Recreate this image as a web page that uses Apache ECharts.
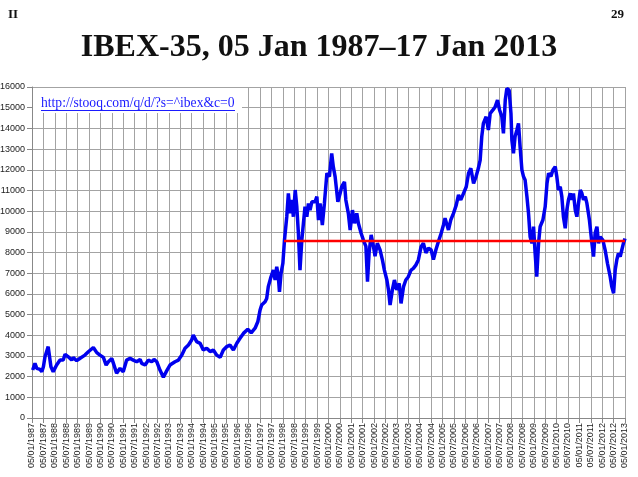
<!DOCTYPE html>
<html>
<head>
<meta charset="utf-8">
<script src="https://cdn.jsdelivr.net/npm/echarts@6/dist/echarts.min.js"></script>
<style>
  html, body { margin: 0; padding: 0; background: #fff; }
  #chart { width: 638px; height: 477px; }
</style>
</head>
<body>
<div id="chart"></div>
<script>
// tick labels, one every half year
var tickLabels = [
  '05/01/1987', '05/07/1987', '05/01/1988', '05/07/1988', '05/01/1989', '05/07/1989',
  '05/01/1990', '05/07/1990', '05/01/1991', '05/07/1991', '05/01/1992', '05/07/1992',
  '05/01/1993', '05/07/1993', '05/01/1994', '05/07/1994', '05/01/1995', '05/07/1995',
  '05/01/1996', '05/07/1996', '05/01/1997', '05/07/1997', '05/01/1998', '05/07/1998',
  '05/01/1999', '05/07/1999', '05/01/2000', '05/07/2000', '05/01/2001', '05/07/2001',
  '05/01/2002', '05/07/2002', '05/01/2003', '05/07/2003', '05/01/2004', '05/07/2004',
  '05/01/2005', '05/07/2005', '05/01/2006', '05/07/2006', '05/01/2007', '05/07/2007',
  '05/01/2008', '05/07/2008', '05/01/2009', '05/07/2009', '05/01/2010', '05/07/2010',
  '05/01/2011', '05/07/2011', '05/01/2012', '05/07/2012', '05/01/2013'
]

// dates as decimal years
var years = [
  1987.03, 1987.13, 1987.21, 1987.35, 1987.43, 1987.50, 1987.57, 1987.71, 1987.79, 1987.83, 1987.93,
  1988.08, 1988.23, 1988.37, 1988.45, 1988.59, 1988.74, 1988.81, 1988.96,
  1989.11, 1989.32, 1989.47, 1989.54, 1989.69, 1989.84, 1989.98,
  1990.13, 1990.25, 1990.35, 1990.50, 1990.57, 1990.71, 1990.86,
  1991.00, 1991.15, 1991.30, 1991.44, 1991.59, 1991.74, 1991.81, 1991.96,
  1992.10, 1992.25, 1992.35, 1992.47, 1992.61, 1992.76, 1992.91,
  1993.05, 1993.27, 1993.42, 1993.57, 1993.71, 1993.86,
  1994.00, 1994.07, 1994.22, 1994.37, 1994.51, 1994.66, 1994.81, 1994.95,
  1995.10, 1995.25, 1995.39, 1995.54, 1995.68, 1995.83, 1995.98,
  1996.12, 1996.27, 1996.46, 1996.61, 1996.78, 1996.90,
  1997.00, 1997.07, 1997.22, 1997.29, 1997.36, 1997.48, 1997.58, 1997.66, 1997.73, 1997.80, 1997.85, 1997.92,
  1998.00, 1998.07, 1998.17, 1998.24, 1998.32, 1998.39, 1998.46, 1998.54, 1998.61, 1998.68, 1998.75, 1998.83, 1998.90, 1998.97,
  1999.05, 1999.12, 1999.19, 1999.27, 1999.41, 1999.49, 1999.56, 1999.63, 1999.73, 1999.82, 1999.93,
  2000.04, 2000.14, 2000.21, 2000.29, 2000.41, 2000.51, 2000.58, 2000.70, 2000.76, 2000.87, 2000.95,
  2001.05, 2001.14, 2001.24, 2001.31, 2001.43, 2001.53, 2001.64, 2001.71, 2001.78, 2001.87, 2001.97,
  2002.04, 2002.14, 2002.26, 2002.36, 2002.45, 2002.56, 2002.63, 2002.70, 2002.80, 2002.89, 2002.99,
  2003.10, 2003.18, 2003.29, 2003.39, 2003.50, 2003.62, 2003.72, 2003.83, 2003.94,
  2004.06, 2004.16, 2004.27, 2004.38, 2004.50, 2004.60, 2004.71, 2004.82, 2004.94,
  2005.04, 2005.11, 2005.16, 2005.26, 2005.36, 2005.48, 2005.60, 2005.70, 2005.80, 2005.92,
  2006.04, 2006.14, 2006.24, 2006.36, 2006.47, 2006.57, 2006.65, 2006.72, 2006.79, 2006.91,
  2007.01, 2007.09, 2007.21, 2007.31, 2007.41, 2007.50, 2007.60, 2007.67, 2007.75, 2007.82, 2007.92,
  2008.00, 2008.04, 2008.11, 2008.18, 2008.26, 2008.33, 2008.40, 2008.48, 2008.55, 2008.62, 2008.70, 2008.77, 2008.84, 2008.92, 2008.99,
  2009.06, 2009.13, 2009.21, 2009.28, 2009.40, 2009.50, 2009.58, 2009.65, 2009.75, 2009.84, 2009.94,
  2010.01, 2010.08, 2010.16, 2010.23, 2010.30, 2010.38, 2010.45, 2010.52, 2010.60, 2010.67, 2010.74, 2010.82, 2010.89, 2010.96,
  2011.04, 2011.11, 2011.18, 2011.26, 2011.33, 2011.44, 2011.55, 2011.62, 2011.69, 2011.77, 2011.84, 2011.91,
  2012.03, 2012.13, 2012.23, 2012.35, 2012.42, 2012.50, 2012.57, 2012.64, 2012.71, 2012.79, 2012.86, 2012.93, 2013.00
]

var ibex = [
  2320, 2640, 2400, 2350, 2240, 2480, 2960, 3450, 3530, 2480, 2240,
  2560, 2800, 2800, 3080, 2960, 2800, 2920, 2770,
  2890, 3040, 3200, 3120, 3410, 3160, 3040,
  2930, 2560, 2720, 2880, 2640, 2160, 2400,
  2240, 2800, 2880, 2800, 2720, 2830, 2640, 2560,
  2800, 2720, 2830, 2720, 2320, 1970, 2290,
  2560, 2720, 2800, 3040, 3370, 3530,
  3770, 4010, 3690, 3610, 3290, 3370, 3210, 3290,
  3040, 2930, 3290, 3450, 3530, 3290, 3610,
  3850, 4090, 4290, 4120, 4340, 4650,
  5220, 5460, 5620, 5780, 6350, 6830, 7150, 6670, 7310, 6830, 6100, 7000,
  7480, 8600, 9730, 10860, 9890, 10540, 9730, 11020, 10210, 8930, 7150, 8600, 9410, 10210,
  9730, 10370, 10050, 10450, 10450, 10700, 9570, 10370, 9330, 10370, 11830,
  11670, 12790, 12150, 11670, 10450, 10860, 11180, 11410, 10540, 9890, 9090,
  10050, 9410, 9890, 9410, 8930, 8600, 8300, 6590, 7980, 8850, 8300,
  7820, 8450, 8130, 7660, 7150, 6670, 6190, 5460, 6190, 6670, 6190,
  6510, 5540, 6350, 6670, 6830, 7150, 7230, 7390, 7640,
  8280, 8450, 7980, 8210, 8130, 7660, 8130, 8530, 8930,
  9330, 9660, 9730, 9090, 9570, 9890, 10290, 10780, 10540, 10860,
  11180, 11830, 12070, 11340, 11670, 12070, 12470, 13600, 14240, 14560,
  13920, 14730, 14890, 15050, 15370, 14890, 14560, 13760, 15370, 15930, 15850,
  14730, 13440, 12790, 13600, 13920, 14240, 13120, 11990, 11670, 11510, 10700, 9890, 8760, 8440, 9250,
  7960, 6830, 8450, 9250, 9570, 10210, 11340, 11830, 11670, 11990, 12150,
  11670, 11020, 11180, 10700, 9730, 9170, 10050, 10540, 10860, 10540, 10860, 10050, 9730, 10370,
  11020, 10860, 10540, 10700, 10370, 9570, 8440, 7800, 8930, 9250, 8440, 8760,
  8600, 8120, 7480, 6830, 6350, 6030, 7150, 7640, 7960, 7800, 8120, 8440, 8680
]

// red level line
var meanStart = 1998.05
var meanEnd = 2013.0
var meanValue = 8550

var seriesData = years.map(function(y, i) { return [y, ibex[i]] })

var chart = echarts.init(document.getElementById('chart'))
var gridColor = '#a3a3a3'

var option = {
  animation: false,
  backgroundColor: '#fff',
  title: {
    text: 'IBEX-35, 05 Jan 1987\u201317 Jan 2013',
    left: 'center',
    top: 27,
    textStyle: {
      fontFamily: 'Liberation Serif',
      fontWeight: 'bold',
      fontSize: 32,
      color: '#111'
    }
  },
  grid: { left: 32, right: 13, top: 87, bottom: 59, outerBoundsMode: 'none' },
  xAxis: {
    type: 'value',
    min: 1987,
    max: 2013,
    interval: 0.5,
    axisLine: { lineStyle: { color: '#888' } },
    axisTick: { show: true, length: 5, lineStyle: { color: '#888' } },
    axisLabel: {
      rotate: 90,
      fontSize: 9,
      fontFamily: 'Liberation Sans',
      color: '#222',
      margin: 5,
      width: 80,
      overflow: 'none',
      hideOverlap: false,
      showMinLabel: true,
      showMaxLabel: true,
      formatter: function(v) {
        return tickLabels[Math.round((v - 1987) * 2)] || ''
      }
    },
    splitLine: { show: true, lineStyle: { color: gridColor, width: 1 } }
  },
  yAxis: {
    type: 'value',
    min: 0,
    max: 16000,
    interval: 1000,
    axisLine: { show: true, lineStyle: { color: '#888' } },
    axisTick: { show: true, length: 5, lineStyle: { color: '#888' } },
    axisLabel: {
      fontSize: 9,
      fontFamily: 'Liberation Sans',
      color: '#222',
      margin: 7,
      formatter: function(v) { return String(v) }
    },
    splitLine: { show: true, lineStyle: { color: gridColor, width: 1 } }
  },
  series: [
    {
      name: 'IBEX-35',
      type: 'line',
      data: seriesData,
      showSymbol: false,
      lineStyle: { color: '#0000ee', width: 3.5 },
      z: 3
    },
    {
      name: 'level',
      type: 'line',
      data: [[meanStart, meanValue], [meanEnd, meanValue]],
      showSymbol: false,
      lineStyle: { color: '#ff0000', width: 2.5 },
      z: 4
    }
  ],
  graphic: [
    { type: 'text', left: 8, top: 8, style: { text: 'II', font: 'bold 13px "Liberation Serif"', fill: '#111' } },
    { type: 'text', left: 611, top: 8, style: { text: '29', font: 'bold 13px "Liberation Serif"', fill: '#111' } },
    { type: 'rect', shape: { x: 33, y: 88, width: 209, height: 25 }, style: { fill: '#fff' }, z: 100 },
    { type: 'text', left: 41, top: 96, z: 101, style: { text: 'http://stooq.com/q/d/?s=^ibex&c=0', font: '13.6px "Liberation Serif"', fill: '#1a1aff' } },
    { type: 'line', shape: { x1: 41, y1: 110.5, x2: 235, y2: 110.5 }, style: { stroke: '#1a1aff', lineWidth: 1 }, z: 101 }
  ]
}

chart.setOption(option)
</script>
</body>
</html>
